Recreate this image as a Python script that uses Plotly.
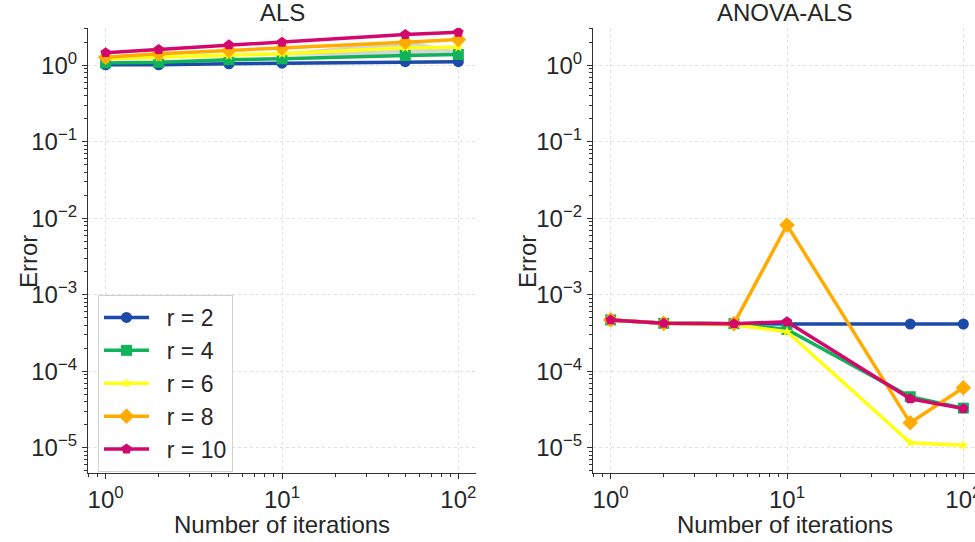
import plotly.graph_objects as go

# ---------------- data ----------------
iterations = [1, 2, 5, 10, 50, 100]
ranks = ["r = 2", "r = 4", "r = 6", "r = 8", "r = 10"]

als_r2 = [1.02, 1.02, 1.05, 1.07, 1.12, 1.12]
als_r4 = [1.08, 1.10, 1.19, 1.22, 1.35, 1.39]
als_r6 = [1.22, 1.28, 1.35, 1.42, 1.70, 1.73]
als_r8 = [1.28, 1.42, 1.57, 1.68, 2.01, 2.18]
als_r10 = [1.47, 1.62, 1.86, 2.01, 2.54, 2.72]

# grey spread band (ALS)
band_low = [1.22, 1.28, 1.35, 1.36, 1.30, 1.40]
band_high = [1.22, 1.28, 1.35, 1.45, 2.15, 1.55]

anova_r2 = [4.7e-4, 4.24e-4, 4.2e-4, 4.15e-4, 4.15e-4, 4.15e-4]
anova_r4 = [4.7e-4, 4.24e-4, 4.2e-4, 3.53e-4, 4.65e-5, 3.3e-5]
anova_r6 = [4.7e-4, 4.24e-4, 4.05e-4, 3.3e-4, 1.16e-5, 1.08e-5]
anova_r8 = [4.7e-4, 4.24e-4, 4.2e-4, 8.2e-3, 2.12e-5, 6.1e-5]
anova_r10 = [4.7e-4, 4.24e-4, 4.2e-4, 4.45e-4, 4.38e-5, 3.25e-5]

x_tickvals = [1, 10, 100]
x_ticktext = ["10<sup>0</sup>", "10<sup>1</sup>", "10<sup>2</sup>"]
y_tickvals = [1e-5, 1e-4, 1e-3, 1e-2, 1e-1, 1]
y_ticktext = ["10<sup>\u22125</sup>", "10<sup>\u22124</sup>", "10<sup>\u22123</sup>",
              "10<sup>\u22122</sup>", "10<sup>\u22121</sup>", "10<sup>0</sup>"]

colors = ["#1b4aa8", "#10b25a", "#ffff14", "#ffab00", "#d3086f"]
symbols = ["circle", "square", "star", "diamond", "pentagon"]
msizes = [11, 11, 8, 12, 11]

als = [als_r2, als_r4, als_r6, als_r8, als_r10]
anova = [anova_r2, anova_r4, anova_r6, anova_r8, anova_r10]

FONT = "Liberation Sans, Arial, sans-serif"
TXT = "#262626"
FS = 24
PAD = "\u00a0\u00a0"

fig = go.Figure()

# band
fig.add_trace(go.Scatter(x=iterations, y=band_low, mode="lines", line=dict(width=0),
                         showlegend=False, hoverinfo="skip", xaxis="x", yaxis="y"))
fig.add_trace(go.Scatter(x=iterations, y=band_high, mode="lines", line=dict(width=0),
                         fill="tonexty", fillcolor="rgba(170,170,170,0.5)",
                         showlegend=False, hoverinfo="skip", xaxis="x", yaxis="y"))

for i, name in enumerate(ranks):
    fig.add_trace(go.Scatter(x=iterations, y=als[i], mode="lines+markers", name=PAD + name,
                             line=dict(color=colors[i], width=3.5),
                             marker=dict(symbol=symbols[i], size=msizes[i], color=colors[i]),
                             xaxis="x", yaxis="y", legendgroup=name))
for i, name in enumerate(ranks):
    fig.add_trace(go.Scatter(x=iterations, y=anova[i], mode="lines+markers", name=name,
                             line=dict(color=colors[i], width=3.5),
                             marker=dict(symbol=symbols[i], size=msizes[i], color=colors[i]),
                             xaxis="x2", yaxis="y2", legendgroup=name, showlegend=False))

minor_x = [m * 10 ** e for e in (-1, 0, 1) for m in range(2, 10)]
minor_y = [m * 10 ** e for e in range(-6, 1) for m in range(2, 10)]

common_x = dict(type="log", tickmode="array", tickvals=x_tickvals, ticktext=x_ticktext,
                automargin=False, ticklabeloverflow="allow",
                showline=True, linecolor="#333333", linewidth=1.2,
                ticks="outside", ticklen=5, tickcolor="#333333", tickwidth=1.2,
                showgrid=True, gridcolor="#e0e0e0", griddash="dot", gridwidth=1,
                zeroline=False, tickfont=dict(size=FS, color=TXT, family=FONT),
                minor=dict(tickmode="array", tickvals=minor_x, ticks="outside", ticklen=3,
                           tickcolor="#333333", tickwidth=1, showgrid=False))
common_y = dict(type="log", tickmode="array", tickvals=y_tickvals, ticktext=y_ticktext,
                range=[-5.33, 0.49], automargin=False,
                showline=True, linecolor="#333333", linewidth=1.2,
                ticks="outside", ticklen=5, tickcolor="#333333", tickwidth=1.2,
                showgrid=True, gridcolor="#e0e0e0", griddash="dot", gridwidth=1,
                zeroline=False, tickfont=dict(size=FS, color=TXT, family=FONT),
                minor=dict(tickmode="array", tickvals=minor_y, ticks="outside", ticklen=3,
                           tickcolor="#333333", tickwidth=1, showgrid=False))

W, H = 975, 542
L, T, R = 88, 28, 0
B = H - 473
pw = W - L - R
ph = H - T - B
left_dom = [0, 388 / pw]
right_dom = [(593 - 88) / pw, 1]
right_end = -0.1 + (pw - (593 - 88)) / (388 / 2.2)

fig.update_layout(
    template="none",
    width=W, height=H,
    margin=dict(l=L, r=R, t=T, b=B, autoexpand=False),
    paper_bgcolor="white", plot_bgcolor="white",
    font=dict(family=FONT, color=TXT),
    xaxis=dict(common_x, domain=left_dom, range=[-0.1, 2.1], anchor="y"),
    yaxis=dict(common_y, domain=[0, 1], anchor="x"),
    xaxis2=dict(common_x, domain=right_dom, range=[-0.1, right_end], anchor="y2"),
    yaxis2=dict(common_y, domain=[0, 1], anchor="x2"),
    legend=dict(x=(98 - 88) / pw, y=(473 - 295) / ph, xanchor="left", yanchor="top",
                bgcolor="rgba(255,255,255,0.85)", bordercolor="#d0d0d0", borderwidth=1,
                font=dict(size=23, color=TXT, family=FONT), itemwidth=45,
                tracegroupgap=0),
    showlegend=True,
)

def px_x(px):
    return (px - L) / pw

def px_y(py):
    return (H - B - py) / ph

ann = [
    dict(text="ALS", x=px_x(282), y=px_y(13)),
    dict(text="ANOVA-ALS", x=px_x(785), y=px_y(13)),
    dict(text="Number of iterations", x=px_x(282), y=px_y(524)),
    dict(text="Number of iterations", x=px_x(785), y=px_y(524)),
]
for a in ann:
    fig.add_annotation(xref="paper", yref="paper", xanchor="center", yanchor="middle",
                       showarrow=False, font=dict(size=FS, color=TXT, family=FONT), **a)
for xp in (28, 527):
    fig.add_annotation(text="Error", xref="paper", yref="paper", x=px_x(xp), y=px_y(262),
                       xanchor="center", yanchor="middle", textangle=-90, showarrow=False,
                       font=dict(size=FS, color=TXT, family=FONT))

fig.write_html("out.html",
               config={"displayModeBar": False},
               post_script="document.body.style.margin='0';document.body.style.overflow='hidden';")
